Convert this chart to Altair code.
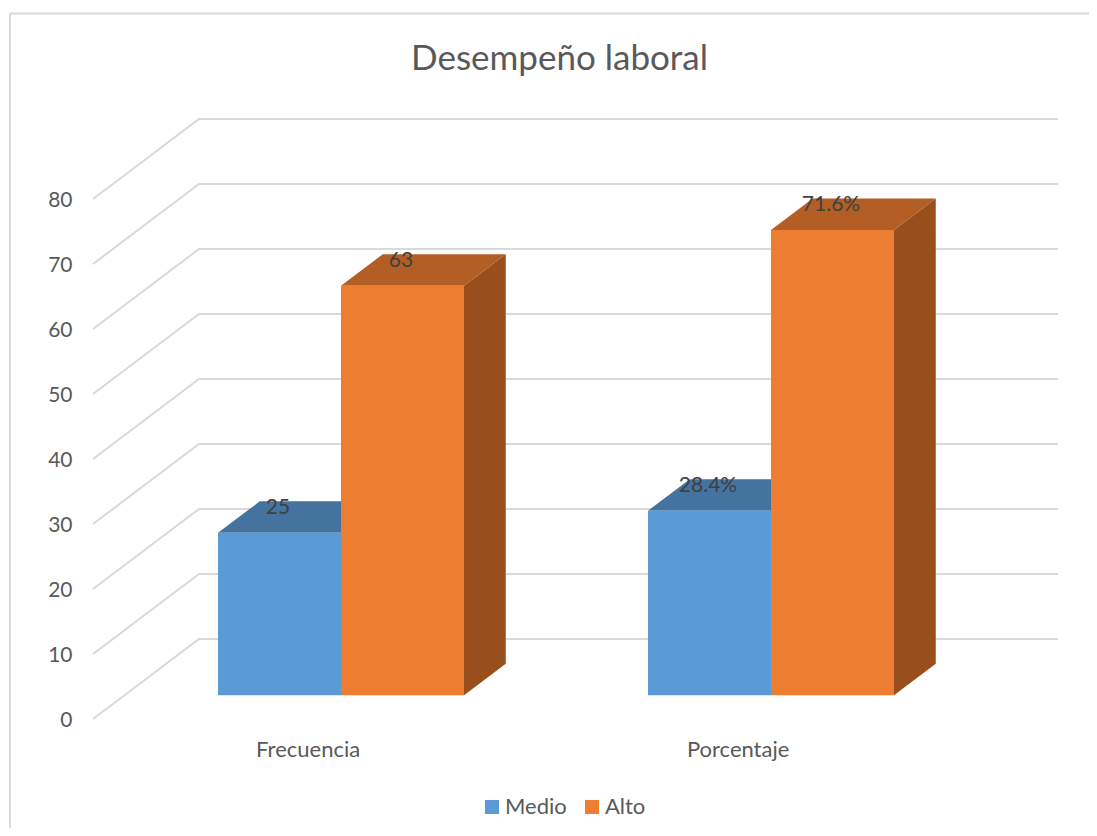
import altair as alt
import pandas as pd

# ---- values
categories = ["Frecuencia", "Porcentaje"]
series = ["Medio", "Alto"]
medio = [25, 28.4]
alto = [63, 71.6]
labels_medio = ["25", "28.4%"]
labels_alto = ["63", "71.6%"]
ticks = [0, 10, 20, 30, 40, 50, 60, 70, 80]

# ---- 3D layout helpers (page pixels on x, value units on y)
PX = 6.5
Y0 = 719
W, H = 1081, 820
DX, DY = 106, 80 / PX        # depth of the wall in x px / value units
BAR_W = 123
CENTERS = [341, 771]
F_FRONT, F_BACK = 0.296, 0.69
XWALL, XRIGHT = 93, 1058
GREY = "#595959"
FONT = "Lato"

xs = alt.Scale(domain=[8, 8 + W], nice=False, zero=False)
ys = alt.Scale(domain=[(Y0 - 8 - H) / PX, (Y0 - 8) / PX], nice=False, zero=False)

y_axis = alt.Axis(
    values=ticks, domain=False, ticks=False, grid=False, title=None,
    labelFont=FONT, labelFontSize=21, labelColor=GREY,
    labelPadding=-64, labelAlign="right", labelOffset=1,
)


def X(**k):
    return alt.X("x:Q", scale=xs, axis=None, **k)


def Y():
    return alt.Y("y:Q", scale=ys, axis=y_axis)


# gridlines
grid_rows = []
for t in ticks:
    grid_rows += [
        {"t": t, "o": 0, "x": XWALL, "y": t},
        {"t": t, "o": 1, "x": XWALL + DX, "y": t + DY},
        {"t": t, "o": 2, "x": XRIGHT, "y": t + DY},
    ]
grid = (
    alt.Chart(pd.DataFrame(grid_rows))
    .mark_line(color="#d9d9d9", strokeWidth=2)
    .encode(x=X(), y=Y(), detail="t:N", order="o:Q")
)

# chart frame (left and top edges)
frame_v = (
    alt.Chart(pd.DataFrame({"x": [10], "y": [(Y0 - 13.5) / PX], "y2": [(Y0 - 8 - H) / PX]}))
    .mark_rule(color="#d9d9d9", strokeWidth=2)
    .encode(x=X(), y=Y(), y2="y2:Q")
)
frame_h = (
    alt.Chart(pd.DataFrame({"x": [10], "x2": [8 + W], "y": [(Y0 - 13.5) / PX]}))
    .mark_rule(color="#d9d9d9", strokeWidth=2)
    .encode(x=X(), x2="x2:Q", y=Y())
)

# bars
front_rows, top_rows, side_rows, label_rows = [], [], [], []
base = F_FRONT * DY
ddx, ddy = (F_BACK - F_FRONT) * DX, (F_BACK - F_FRONT) * DY
for s, vals, labs, off in [("Medio", medio, labels_medio, -BAR_W), ("Alto", alto, labels_alto, 0)]:
    for c, v, lab, ctr in zip(categories, vals, labs, CENTERS):
        x0, x1 = ctr + off, ctr + off + BAR_W
        top = base + v
        key = s + c
        front_rows.append({"serie": s, "x": x0, "x2": x1, "y": base, "y2": top})
        for x, a, b in [(x0, top, top), (x0 + ddx, top + ddy, top), (x1, top + ddy, top), (x1 + ddx, top + ddy, top + ddy)]:
            top_rows.append({"serie": s, "k": key, "x": x, "y": a, "y2": b})
        for x, a, b in [(x1, top, base), (x1 + ddx, top + ddy, base + ddy)]:
            side_rows.append({"serie": s, "k": key, "x": x, "y": a, "y2": b})
        label_rows.append({"x": (x0 + x1) / 2 - 1.5, "y": top + 24.5 / PX, "t": lab})

top_df, side_df = pd.DataFrame(top_rows), pd.DataFrame(side_rows)
face_colors = [
    ("Medio", "#44739f", "#3d6890"),
    ("Alto", "#b25e24", "#984f1c"),
]
faces = []
for s, ctop, cside in face_colors:
    for df, col in [(side_df, cside), (top_df, ctop)]:
        faces.append(
            alt.Chart(df[df.serie == s])
            .mark_area(color=col, interpolate="linear")
            .encode(x=X(), y=Y(), y2="y2:Q", detail="k:N")
        )

fronts = (
    alt.Chart(pd.DataFrame(front_rows))
    .mark_rect()
    .encode(
        x=X(),
        x2="x2:Q",
        y=Y(),
        y2="y2:Q",
        color=alt.Color(
            "serie:N",
            scale=alt.Scale(domain=series, range=["#5b9bd5", "#ed7d31"]),
            legend=alt.Legend(
                title=None, orient="none", legendX=473, legendY=788, direction="horizontal",
                symbolType="square", symbolSize=196, symbolStrokeWidth=0,
                labelFont=FONT, labelFontSize=22, labelColor=GREY, labelOffset=2,
                columnPadding=14,
            ),
        ),
    )
)

data_labels = (
    alt.Chart(pd.DataFrame(label_rows))
    .mark_text(font=FONT, fontSize=21, color="#404040", baseline="middle", align="center")
    .encode(x=X(), y=Y(), text="t:N")
)

cat_df = pd.DataFrame(
    {"x": [c - F_FRONT * DX - 1.5 for c in CENTERS], "y": [(Y0 - 750) / PX] * 2, "t": categories}
)
cat_labels = (
    alt.Chart(cat_df)
    .mark_text(font=FONT, fontSize=22, color=GREY, baseline="middle", align="center")
    .encode(x=X(), y=Y(), text="t:N")
)

chart = (
    alt.layer(grid, frame_v, frame_h, *faces, fronts, data_labels, cat_labels)
    .properties(
        width=W,
        height=H,
        padding=0,
        background="white",
        autosize=alt.AutoSizeParams(type="none"),
        title=alt.TitleParams(
            "Desempeño laboral", font=FONT, fontSize=35, fontWeight="normal", color=GREY,
            anchor="middle", dx=11, dy=101, baseline="alphabetic",
        ),
    )
    .configure_view(stroke=None)
)

chart.save("out.html", embed_options={"renderer": "svg", "actions": False})
